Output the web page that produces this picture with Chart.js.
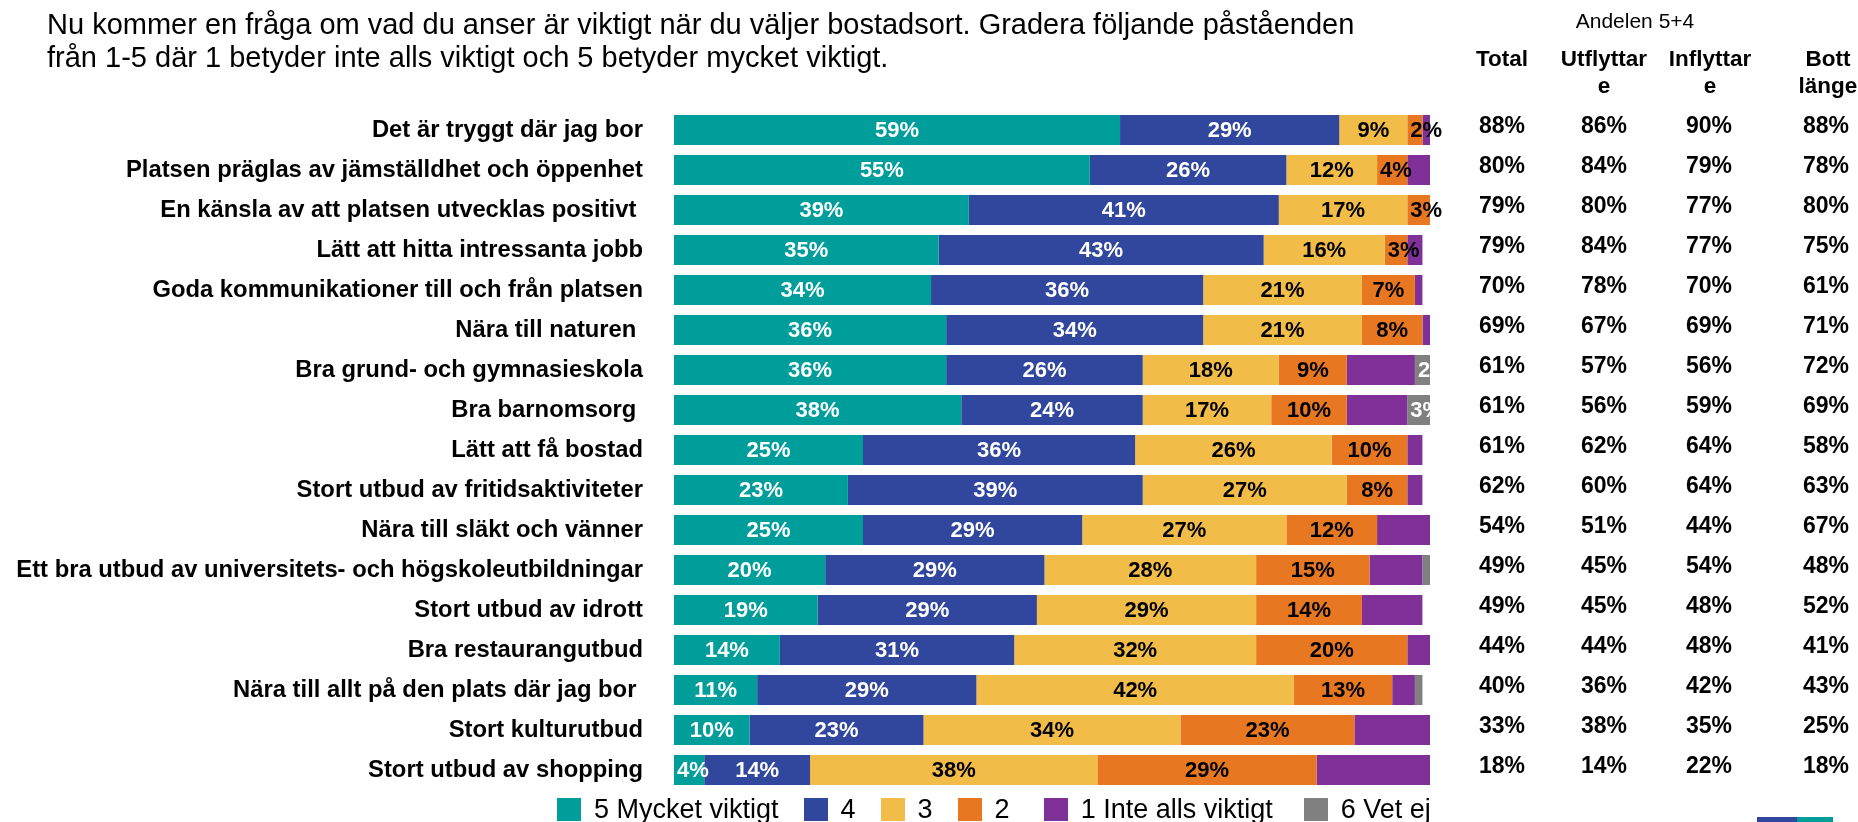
<!DOCTYPE html>
<html lang="sv">
<head>
<meta charset="utf-8">
<title>Viktigt vid val av bostadsort</title>
<script src="https://cdn.jsdelivr.net/npm/chart.js@4.4.1/dist/chart.umd.min.js"></script>
<style>
  body { margin: 0; background: #fff; font-family: "Liberation Sans", Arial, sans-serif; color: #000; }
  #wrap { position: relative; width: 1858px; height: 822px; overflow: hidden; }
  #chart { position: absolute; left: 0; top: 0; }
  .title { position: absolute; left: 47px; top: 8px; font-size: 29px; line-height: 33px; white-space: nowrap; }
  .share { position: absolute; left: 1535px; width: 200px; top: 9px; text-align: center; font-size: 21px; line-height: 24px; }
  .colhead { position: absolute; top: 45px; width: 140px; text-align: center; font-weight: bold; font-size: 22.5px; line-height: 27px; }
  #legend { position: absolute; left: 557px; top: 798px; height: 23px; display: flex; align-items: center; font-size: 27px; line-height: 23px; white-space: nowrap; }
  #legend .box { width: 24px; height: 23px; margin-right: 13px; }
  .logo { position: absolute; top: 817px; height: 5px; }
</style>
</head>
<body>
<div id="wrap">
  <canvas id="chart" width="1858" height="822"></canvas>
  <div class="title">Nu kommer en fråga om vad du anser är viktigt när du väljer bostadsort. Gradera följande påståenden<br>från 1-5 där 1 betyder inte alls viktigt och 5 betyder mycket viktigt.</div>
  <div class="share">Andelen 5+4</div>
  <div class="colhead" style="left:1432px">Total</div>
  <div class="colhead" style="left:1534px">Utflyttar<br>e</div>
  <div class="colhead" style="left:1640px">Inflyttar<br>e</div>
  <div class="colhead" style="left:1758px">Bott<br>länge</div>
  <div id="legend"></div>
  <div class="logo" style="left:1757px;width:40px;background:#31479d"></div>
  <div class="logo" style="left:1797px;width:36px;background:#009e9b"></div>
</div>
<script>
const categories = [
  "Det är tryggt där jag bor",
  "Platsen präglas av jämställdhet och öppenhet",
  "En känsla av att platsen utvecklas positivt ",
  "Lätt att hitta intressanta jobb",
  "Goda kommunikationer till och från platsen",
  "Nära till naturen ",
  "Bra grund- och gymnasieskola",
  "Bra barnomsorg ",
  "Lätt att få bostad",
  "Stort utbud av fritidsaktiviteter",
  "Nära till släkt och vänner",
  "Ett bra utbud av universitets- och högskoleutbildningar",
  "Stort utbud av idrott",
  "Bra restaurangutbud",
  "Nära till allt på den plats där jag bor ",
  "Stort kulturutbud",
  "Stort utbud av shopping"
];

const seriesNames = ["5 Mycket viktigt", "4", "3", "2", "1 Inte alls viktigt", "6 Vet ej"];

const val5 = [59, 55, 39, 35, 34, 36, 36, 38, 25, 23, 25, 20, 19, 14, 11, 10, 4];
const val4 = [29, 26, 41, 43, 36, 34, 26, 24, 36, 39, 29, 29, 29, 31, 29, 23, 14];
const val3 = [9, 12, 17, 16, 21, 21, 18, 17, 26, 27, 27, 28, 29, 32, 42, 34, 38];
const val2 = [2, 4, 3, 3, 7, 8, 9, 10, 10, 8, 12, 15, 14, 20, 13, 23, 29];
const val1 = [1, 3, 0, 2, 1, 1, 9, 8, 2, 2, 7, 7, 8, 3, 3, 10, 15];
const val6 = [0, 0, 0, 0, 0, 0, 2, 3, 0, 0, 0, 1, 0, 0, 1, 0, 0];

// Andelen 5+4 per group
const totalShare = [88, 80, 79, 79, 70, 69, 61, 61, 61, 62, 54, 49, 49, 44, 40, 33, 18];
const utflyttareShare = [86, 84, 80, 84, 78, 67, 57, 56, 62, 60, 51, 45, 45, 44, 36, 38, 14];
const inflyttareShare = [90, 79, 77, 77, 70, 69, 56, 59, 64, 64, 44, 54, 48, 48, 42, 35, 22];
const bottLangeShare = [88, 78, 80, 75, 61, 71, 72, 69, 58, 63, 67, 48, 52, 41, 43, 25, 18];

const colors = ["#009e9b", "#31479d", "#f1bc47", "#e77721", "#7f3198", "#808080"];
const labelColors = ["#fff", "#fff", "#000", "#000", null, "#fff"];
const legendGaps = [25, 25, 25, 34, 31, 0];
const FONT = "'Liberation Sans', Arial, sans-serif";

const series = [val5, val4, val3, val2, val1, val6];

// value labels inside the bars
const barLabels = {
  id: "barLabels",
  afterDatasetsDraw(chart) {
    const ctx = chart.ctx;
    ctx.save();
    ctx.font = "bold 22px " + FONT;
    ctx.textBaseline = "middle";
    chart.data.datasets.forEach((ds, d) => {
      if (!labelColors[d]) return;
      chart.getDatasetMeta(d).data.forEach((bar, i) => {
        const v = ds.data[i];
        if (!v || (d === 5 && v < 2)) return;
        const text = v + "%";
        const w = Math.abs(bar.x - bar.base);
        const tw = ctx.measureText(text).width;
        ctx.fillStyle = labelColors[d];
        if (tw > w - 4) {
          ctx.textAlign = "left";
          ctx.fillText(text, Math.min(bar.x, bar.base) + 3, bar.y + 1);
        } else {
          ctx.textAlign = "center";
          ctx.fillText(text, (bar.x + bar.base) / 2, bar.y + 1);
        }
      });
    });
    ctx.restore();
  }
};

// the "Andelen 5+4" columns to the right
const shareTable = {
  id: "shareTable",
  afterDraw(chart) {
    const ctx = chart.ctx;
    const y = chart.scales.y;
    const cols = [[totalShare, 1502], [utflyttareShare, 1604], [inflyttareShare, 1709], [bottLangeShare, 1826]];
    ctx.save();
    ctx.font = "bold 23px " + FONT;
    ctx.fillStyle = "#000";
    ctx.textAlign = "center";
    ctx.textBaseline = "middle";
    cols.forEach(([vals, x]) => {
      vals.forEach((v, i) => ctx.fillText(v + "%", x, y.getPixelForValue(i) - 3));
    });
    ctx.restore();
  }
};

const chart = new Chart(document.getElementById("chart"), {
  type: "bar",
  data: {
    labels: categories,
    datasets: series.map((data, i) => ({
      label: seriesNames[i],
      data: data,
      backgroundColor: colors[i],
      borderWidth: 0,
      barPercentage: 0.75,
      categoryPercentage: 1
    }))
  },
  options: {
    indexAxis: "y",
    responsive: false,
    animation: false,
    layout: { padding: { top: 110, bottom: 32, left: 0, right: 428 } },
    plugins: {
      legend: { display: false },
      tooltip: { enabled: false }
    },
    scales: {
      x: { stacked: true, min: 0, max: 100, display: false },
      y: {
        stacked: true,
        grid: { display: false, drawTicks: false },
        border: { display: false },
        ticks: {
          autoSkip: false,
          padding: 31,
          color: "#000",
          font: { family: FONT, size: 23.8, weight: "bold" }
        },
        afterFit(scale) {
          scale.width = 674;
          scale.paddingTop = 0;
          scale.paddingBottom = 0;
        }
      }
    }
  },
  plugins: [barLabels, shareTable]
});

// legend
const legend = document.getElementById("legend");
seriesNames.forEach((name, i) => {
  const box = document.createElement("span");
  box.className = "box";
  box.style.background = colors[i];
  const txt = document.createElement("span");
  txt.textContent = name;
  txt.style.marginRight = legendGaps[i] + "px";
  legend.appendChild(box);
  legend.appendChild(txt);
});
</script>
</body>
</html>
